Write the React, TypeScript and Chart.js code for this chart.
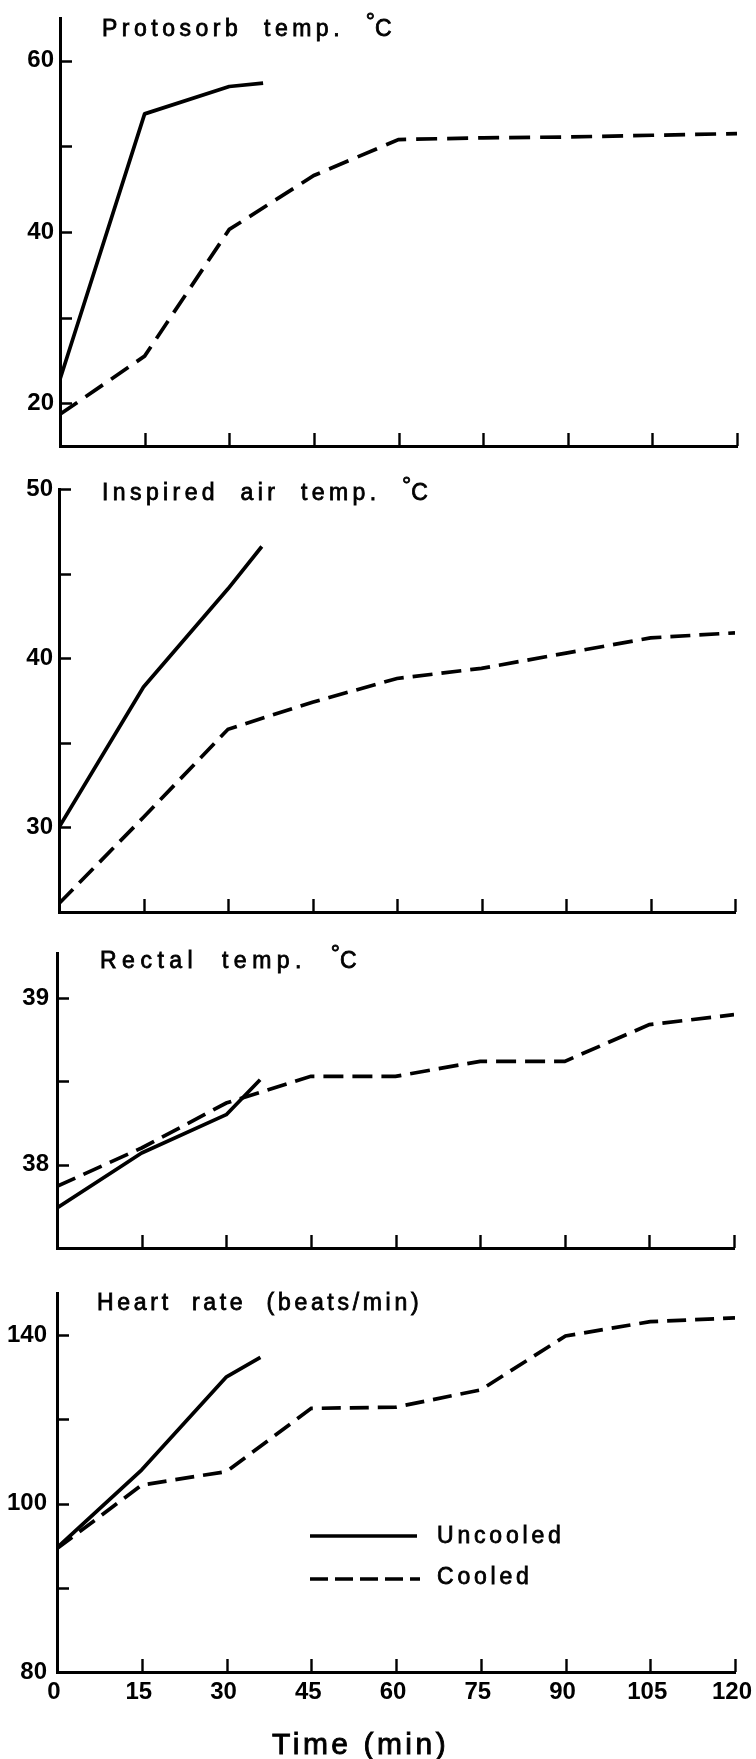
import React, { useEffect, useRef } from "react";
import { Chart, registerables } from "chart.js";

Chart.register(...registerables);

// ---------- data ----------
const TIME_TICKS = [0, 15, 30, 45, 60, 75, 90, 105, 120];
const UNCOOLED_TIME = [0, 15, 30, 36];
const COOLED_TIME = [0, 15, 30, 45, 60, 75, 90, 105, 120];

const PROTOSORB_UNCOOLED = [22.8, 53.8, 57.0, 57.4];
const PROTOSORB_COOLED = [18.7, 25.5, 40.3, 46.6, 50.8, 51.0, 51.1, 51.3, 51.5];
const INSPIRED_UNCOOLED = [30.0, 38.3, 44.1, 46.6];
const INSPIRED_COOLED = [25.5, 30.6, 35.8, 37.4, 38.8, 39.4, 40.3, 41.2, 41.5];
const RECTAL_UNCOOLED = [37.74, 38.07, 38.3, 38.51];
const RECTAL_COOLED = [37.87, 38.1, 38.37, 38.53, 38.53, 38.62, 38.62, 38.84, 38.9];
const HEART_UNCOOLED = [89.5, 108.0, 130.1, 134.7];
const HEART_COOLED = [89.3, 104.4, 107.6, 122.6, 122.9, 127.0, 139.8, 143.2, 144.1];

const PROTOSORB_TICKS = [20, 30, 40, 50, 60];
const PROTOSORB_LABELS = ["20", "", "40", "", "60"];
const INSPIRED_TICKS = [30, 35, 40, 45, 50];
const INSPIRED_LABELS = ["30", "", "40", "", "50"];
const RECTAL_TICKS = [38, 38.5, 39];
const RECTAL_LABELS = ["38", "", "39"];
const HEART_TICKS = [60, 80, 100, 120, 140];
const HEART_LABELS = ["80", "", "100", "", "140"];

const SERIES_NAMES = ["Uncooled", "Cooled"];
const X_TITLE = "Time (min)";

// ---------- layout ----------
const W = 756;
const FONT = "'Liberation Sans', Arial, sans-serif";

type Panel = {
  top: number;
  height: number;
  areaTop: number;
  areaBottom: number;
  left: number;
  right: number;
  yMin: number;
  yMax: number;
  ticks: number[];
  labels: string[];
  labelPad: number;
  unc: number[];
  cool: number[];
  showX: boolean;
  dash: number[];
};

const PANELS: Panel[] = [
  { top: 0, height: 460, areaTop: 18, areaBottom: 446, left: 60, right: 737, yMin: 15, yMax: 65,
    ticks: PROTOSORB_TICKS, labels: PROTOSORB_LABELS, labelPad: 6, unc: PROTOSORB_UNCOOLED, cool: PROTOSORB_COOLED, showX: false, dash: [21, 10] },
  { top: 460, height: 460, areaTop: 29, areaBottom: 452, left: 59, right: 735, yMin: 25, yMax: 50,
    ticks: INSPIRED_TICKS, labels: INSPIRED_LABELS, labelPad: 6, unc: INSPIRED_UNCOOLED, cool: INSPIRED_COOLED, showX: false, dash: [20, 9] },
  { top: 920, height: 340, areaTop: 33, areaBottom: 328, left: 57, right: 734, yMin: 37.5, yMax: 39.27,
    ticks: RECTAL_TICKS, labels: RECTAL_LABELS, labelPad: 8, unc: RECTAL_UNCOOLED, cool: RECTAL_COOLED, showX: false, dash: [20, 9] },
  { top: 1260, height: 499, areaTop: 33, areaBottom: 412, left: 57, right: 735, yMin: 60, yMax: 150,
    ticks: HEART_TICKS, labels: HEART_LABELS, labelPad: 10, unc: HEART_UNCOOLED, cool: HEART_COOLED, showX: true, dash: [19, 9] },
];

const TITLES = [
  { top: 17, left: 102, spacing: 4.5, deg: true, words: ["Protosorb", "temp."] },
  { top: 481, left: 102, spacing: 4.4, deg: true, words: ["Inspired", "air", "temp."] },
  { top: 949, left: 100, spacing: 5.5, deg: true, words: ["Rectal", "temp."] },
  { top: 1291, left: 97, spacing: 3.7, deg: false, words: ["Heart", "rate", "(beats/min)"] },
];

const innerTicks = {
  id: "innerTicks",
  afterDraw(chart: any) {
    const { ctx, chartArea: a, scales } = chart;
    const x = scales.x;
    const y = scales.y;
    ctx.save();
    ctx.strokeStyle = "#000";
    ctx.lineWidth = 2.4;
    ctx.beginPath();
    y.ticks.forEach((t: any) => {
      if (t.value <= y.min + 1e-9) return;
      const py = Math.round(y.getPixelForValue(t.value)) + 0.5;
      ctx.moveTo(a.left, py);
      ctx.lineTo(a.left + 12, py);
    });
    x.ticks.forEach((t: any) => {
      if (t.value <= x.min + 1e-9) return;
      const px = Math.round(x.getPixelForValue(t.value)) + 0.5;
      ctx.moveTo(px, a.bottom);
      ctx.lineTo(px, a.bottom - 13);
    });
    ctx.stroke();
    ctx.restore();
  },
};

function PanelChart({ p }: { p: Panel }) {
  const ref = useRef<HTMLCanvasElement | null>(null);
  useEffect(() => {
    if (!ref.current) return;
    const chart = new Chart(ref.current, {
      type: "line",
      data: {
        datasets: [
          {
            label: SERIES_NAMES[0],
            data: UNCOOLED_TIME.map((t, i) => ({ x: t, y: p.unc[i] })),
            borderColor: "#000",
            borderWidth: 3.7,
            pointRadius: 0,
            tension: 0,
            fill: false,
            borderJoinStyle: "round",
          },
          {
            label: SERIES_NAMES[1],
            data: COOLED_TIME.map((t, i) => ({ x: t, y: p.cool[i] })),
            borderColor: "#000",
            borderWidth: 3.7,
            borderDash: p.dash,
            pointRadius: 0,
            tension: 0,
            fill: false,
          },
        ],
      },
      options: {
        animation: false,
        responsive: false,
        maintainAspectRatio: false,
        devicePixelRatio: 1,
        layout: { padding: { top: p.areaTop, right: W - p.right, bottom: 0, left: 0 } },
        plugins: { legend: { display: false }, tooltip: { enabled: false }, title: { display: false } },
        scales: {
          x: {
            type: "linear",
            min: 0,
            max: 120,
            afterBuildTicks: (s: any) => {
              s.ticks = TIME_TICKS.map((v) => ({ value: v }));
            },
            afterFit: (s: any) => {
              s.height = p.height - p.areaBottom;
              s.paddingLeft = 0;
              s.paddingRight = 0;
            },
            grid: { display: true, drawOnChartArea: false, drawTicks: false },
            border: { display: true, color: "#000", width: 3 },
            ticks: {
              display: p.showX,
              color: "#000",
              font: { family: FONT, size: 24, weight: "bold" },
              padding: 6,
              labelOffset: -3,
              maxRotation: 0,
              autoSkip: false,
              callback: (v: any) => String(v),
            },
          },
          y: {
            type: "linear",
            min: p.yMin,
            max: p.yMax,
            afterBuildTicks: (s: any) => {
              s.ticks = p.ticks.map((v) => ({ value: v }));
            },
            afterFit: (s: any) => {
              s.width = p.left;
              s.paddingTop = 0;
              s.paddingBottom = 0;
            },
            grid: { display: true, drawOnChartArea: false, drawTicks: false },
            border: { display: true, color: "#000", width: 3 },
            ticks: {
              color: "#000",
              font: { family: FONT, size: 24, weight: "bold" },
              padding: p.labelPad,
              autoSkip: false,
              callback: (v: any) => {
                const i = p.ticks.findIndex((t) => Math.abs(t - Number(v)) < 1e-6);
                return i >= 0 ? p.labels[i] : "";
              },
            },
          },
        },
      },
      plugins: [innerTicks],
    } as any);
    return () => chart.destroy();
  }, [p]);
  return (
    <canvas
      ref={ref}
      width={W}
      height={p.height}
      style={{ position: "absolute", left: 0, top: p.top, width: W, height: p.height }}
    />
  );
}

const textStyle: React.CSSProperties = {
  position: "absolute",
  fontFamily: FONT,
  fontSize: 23,
  lineHeight: 1,
  letterSpacing: 5,
  color: "#000",
  whiteSpace: "pre",
  WebkitTextStroke: "0.8px #000",
};

export default function App() {
  return (
    <div style={{ position: "absolute", left: 0, top: 0, width: W, height: 1759, background: "#fff", overflow: "hidden" }}>
      {PANELS.map((p, i) => (
        <PanelChart key={i} p={p} />
      ))}
      {TITLES.map((t, i) => (
        <div key={i} style={{ ...textStyle, letterSpacing: t.spacing, top: t.top, left: t.left }}>
          {t.words.join("  ")}
          {t.deg ? "  " : ""}
          {t.deg ? <span style={{ position: "relative", top: -7, letterSpacing: 0 }}>°</span> : null}
          {t.deg ? "C" : ""}
        </div>
      ))}
      {/* legend */}
      <svg width={W} height={1759} style={{ position: "absolute", left: 0, top: 0, pointerEvents: "none" }}>
        <line x1={310} y1={1536} x2={417} y2={1536} stroke="#000" strokeWidth={3.6} />
        <line x1={310} y1={1579} x2={420} y2={1579} stroke="#000" strokeWidth={3.6} strokeDasharray="18 7" />
      </svg>
      <div style={{ ...textStyle, letterSpacing: 3.8, top: 1524, left: 437 }}>{SERIES_NAMES[0]}</div>
      <div style={{ ...textStyle, letterSpacing: 3.8, top: 1565, left: 437 }}>{SERIES_NAMES[1]}</div>
      <div style={{ ...textStyle, fontSize: 30, letterSpacing: 3.5, top: 1729, left: 272, WebkitTextStroke: "0.9px #000" }}>{X_TITLE}</div>
    </div>
  );
}
